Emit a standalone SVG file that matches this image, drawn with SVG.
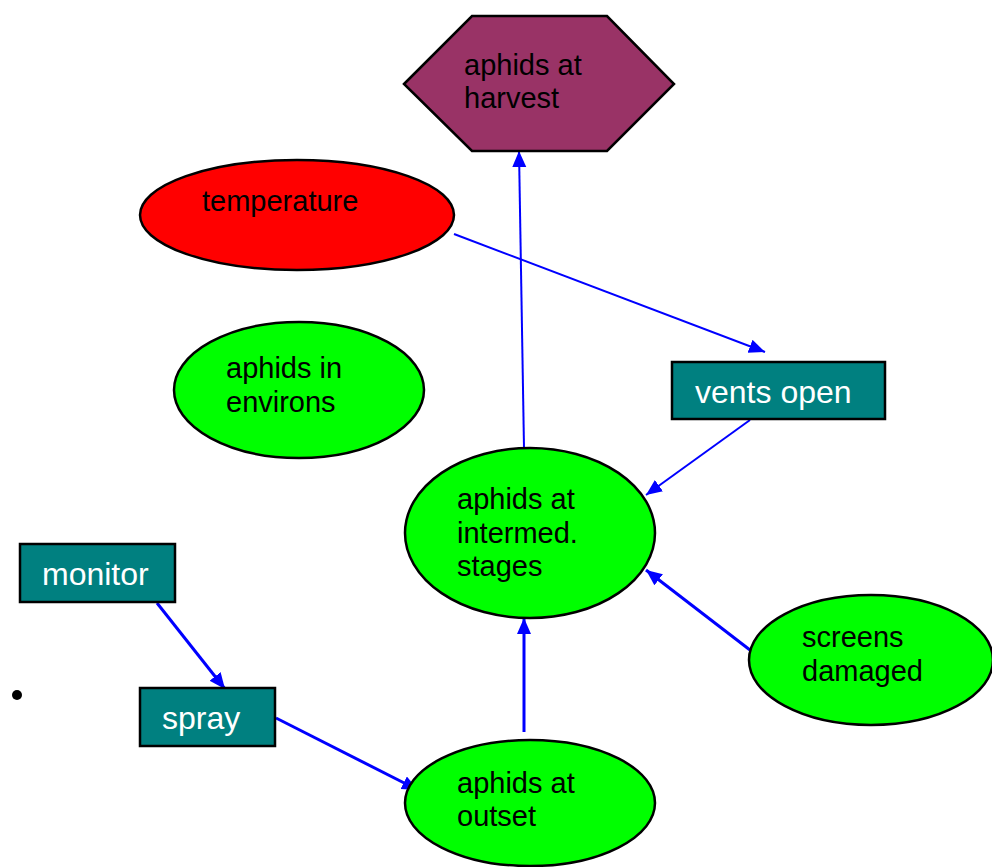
<svg xmlns="http://www.w3.org/2000/svg" width="992" height="867" viewBox="0 0 992 867">
<style>
.node{stroke:#000;stroke-width:2.5}
.g{fill:#00ff00}
.box{fill:#008080}
.t{font-family:"Liberation Sans",Arial,sans-serif;font-size:29px;fill:#000}
.w{font-family:"Liberation Sans",Arial,sans-serif;font-size:32px;fill:#fff}
.c{stroke:#0000ff;fill:none}
</style>
<defs>
<marker id="ah" markerUnits="userSpaceOnUse" markerWidth="18" markerHeight="16" refX="16" refY="7" orient="auto">
<path d="M0,0 L16,7 L0,14 Z" fill="#0000ff"/>
</marker>
</defs>
<rect width="992" height="867" fill="#fff"/>
<g id="connectors">
<line class="c" stroke-width="2" x1="454" y1="234" x2="765" y2="352" marker-end="url(#ah)"/>
<line class="c" stroke-width="2" x1="750" y1="420" x2="646" y2="495" marker-end="url(#ah)"/>
<line class="c" stroke-width="2" x1="524" y1="448" x2="519" y2="151" marker-end="url(#ah)"/>
<line class="c" stroke-width="3" x1="524" y1="732" x2="524" y2="618" marker-end="url(#ah)"/>
<line class="c" stroke-width="3" x1="750" y1="650" x2="646" y2="570" marker-end="url(#ah)"/>
<line class="c" stroke-width="3" x1="157" y1="603" x2="225" y2="689" marker-end="url(#ah)"/>
<line class="c" stroke-width="3" x1="276" y1="718" x2="418" y2="790" marker-end="url(#ah)"/>
</g>
<g id="harvest">
<polygon class="node" fill="#993366" points="404,84 472,16 607,16 674,84 607,151 472,151"/>
<text class="t" x="464" y="75">aphids at</text>
<text class="t" x="464" y="108">harvest</text>
</g>
<g id="temperature">
<ellipse class="node" fill="#ff0000" cx="297" cy="215" rx="157" ry="55"/>
<text class="t" x="202" y="211">temperature</text>
</g>
<g id="environs">
<ellipse class="node g" cx="299" cy="390" rx="125" ry="68"/>
<text class="t" x="226" y="378">aphids in</text>
<text class="t" x="226" y="412">environs</text>
</g>
<g id="vents">
<rect class="node box" x="672" y="362" width="213" height="57"/>
<text class="w" x="695" y="403">vents open</text>
</g>
<g id="intermed">
<ellipse class="node g" cx="530" cy="533" rx="125" ry="85"/>
<text class="t" x="457" y="509">aphids at</text>
<text class="t" x="457" y="543">intermed.</text>
<text class="t" x="457" y="576">stages</text>
</g>
<g id="monitor">
<rect class="node box" x="20" y="544" width="155" height="58"/>
<text class="w" x="42" y="585">monitor</text>
</g>
<g id="spray">
<rect class="node box" x="140" y="688" width="135" height="58"/>
<text class="w" x="162" y="729">spray</text>
</g>
<g id="bullet">
<circle cx="17" cy="695" r="5" fill="#000"/>
</g>
<g id="outset">
<ellipse class="node g" cx="530" cy="803" rx="125" ry="63"/>
<text class="t" x="457" y="793">aphids at</text>
<text class="t" x="457" y="826">outset</text>
</g>
<g id="screens">
<ellipse class="node g" cx="871" cy="660" rx="122" ry="65"/>
<text class="t" x="802" y="647">screens</text>
<text class="t" x="802" y="681">damaged</text>
</g>
</svg>
